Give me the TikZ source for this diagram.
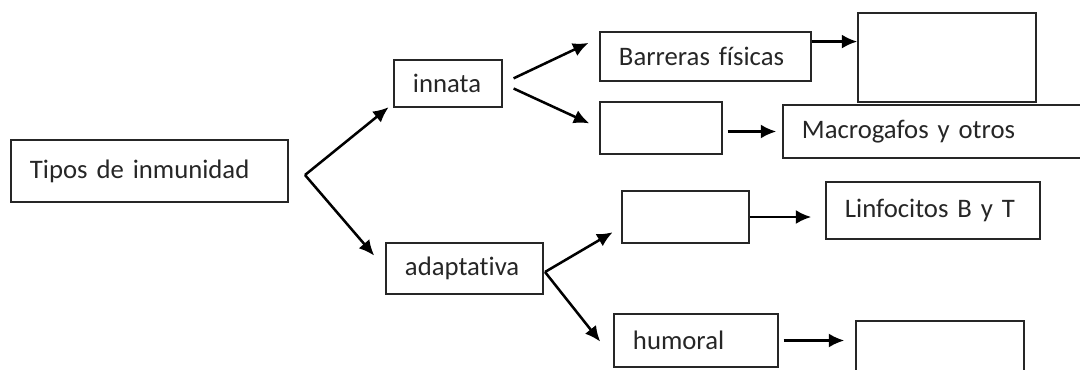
\documentclass[tikz,border=0pt]{standalone}
\usepackage{fontspec}
\setmainfont[Ligatures=NoCommon]{Carlito}
\usetikzlibrary{calc,arrows.meta}

\tikzset{
  caja/.style={draw=black!85, line width=1pt, inner xsep=0.475cm, inner ysep=0pt,
    align=left, text=black!85, font=\fontsize{19}{23}\selectfont},
  vacia/.style={draw=black!85, line width=1pt, inner sep=0pt},
  flecha/.style={line width=1.8pt, -{Latex[length=11pt,width=10pt]}}
}

\begin{document}
\begin{tikzpicture}[x=0.025cm,y=-0.025cm]

\useasboundingbox (0,0) rectangle (1080,369);

% first column
\node[caja, text width=5.975cm, minimum height=1.55cm] (Tipos) at (149.5,171) {Tipos de inmunidad};

% second column
\node[caja, text width=1.75cm, minimum height=1.175cm] (Innata) at (448,83.5) {innata};
\node[caja, text width=2.975cm, minimum height=1.275cm] (Adaptativa) at (464.5,268.5) {adaptativa};

% third column
\node[caja, text width=4.325cm, minimum height=1.225cm] (Barreras) at (705.5,56.5) {Barreras físicas};
\node[vacia, minimum width=3.05cm, minimum height=1.3cm] (VacioB) at (661,128) {};
\node[vacia, minimum width=3.175cm, minimum height=1.3cm] (VacioC) at (685.5,217) {};
\node[caja, text width=3.15cm, minimum height=1.325cm] (Humoral) at (696,340.5) {humoral};

% last column
\node[vacia, minimum width=4.45cm, minimum height=2.225cm] (VacioA) at (947,57.5) {};
\node[caja, text width=6.85cm, minimum height=1.325cm] (Macro) at (939,131.5) {Macrogafos y otros};
\node[caja, text width=4.4cm, minimum height=1.425cm] (Linfo) at (933,210.5) {Linfocitos B y T};
\node[vacia, minimum width=4.2cm, minimum height=1.475cm] (VacioD) at (940,350.5) {};

% forks
\coordinate (ForkT) at (305,175);
\coordinate (ForkA) at (545,272);

\draw[flecha, shorten >=0.15cm] (ForkT) -- (Innata.200);
\draw[flecha, shorten >=0.425cm] (ForkT) -- (Adaptativa.180);

\draw[flecha, shorten <=0.3cm, shorten >=0.3cm] (Innata.east) -- (Barreras.170);
\draw[flecha, shorten <=0.3cm, shorten >=0.275cm] (Innata.east) -- (VacioB.west);

\draw[flecha, shorten >=0.25cm] (ForkA) -- (VacioC.189);
\draw[flecha, shorten >=0.525cm] (ForkA) -- (Humoral.192);

% horizontal arrows
\draw[flecha] (Barreras.8) -- (Barreras.8 -| VacioA.west);
\draw[flecha, shorten <=0.125cm, shorten >=0.15cm] (VacioB.east |- Macro.west) -- (Macro.west);
\draw[flecha, shorten >=0.35cm] (VacioC.east) -- (VacioC.east -| Linfo.west);
\draw[flecha, shorten <=0.125cm, shorten >=0.275cm] (Humoral.east) -- (Humoral.east -| VacioD.west);

\end{tikzpicture}
\end{document}
